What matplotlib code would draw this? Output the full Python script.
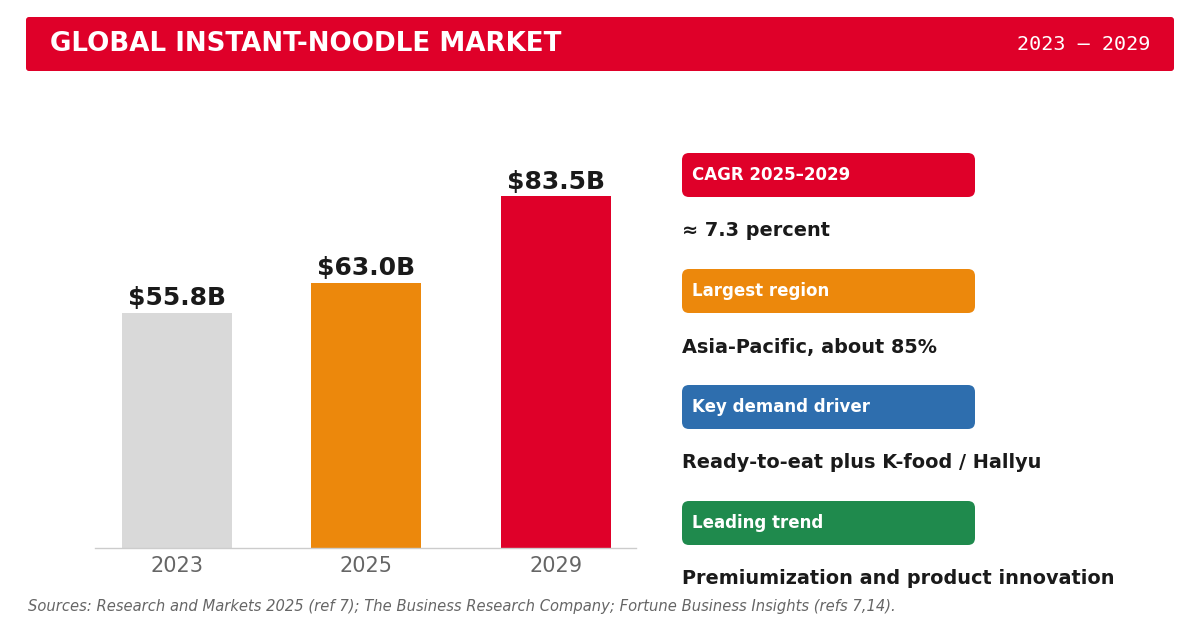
import matplotlib
matplotlib.use('Agg')
import matplotlib.pyplot as plt
from matplotlib.patches import FancyBboxPatch

plt.rcParams['font.family'] = ['DejaVu Sans']

# data
years = ['2023', '2025', '2029']
market_size = [55.8, 63.0, 83.5]  # USD billion
card_titles = ['CAGR 2025\u20132029', 'Largest region', 'Key demand driver', 'Leading trend']
card_values = ['\u2248 7.3 percent', 'Asia-Pacific, about 85%',
               'Ready-to-eat plus K-food / Hallyu',
               'Premiumization and product innovation']
title = 'GLOBAL INSTANT-NOODLE MARKET'
period = '2023 \u2013 2029'
source = ('Sources: Research and Markets 2025 (ref 7); The Business Research Company; '
          'Fortune Business Insights (refs 7,14).')

# styles
RED = '#DF0029'
bar_colors = ['#D9D9D9', '#EC880C', RED]
card_colors = [RED, '#EC880C', '#2E6EAE', '#1F8A4D']
DARK = '#1A1A1A'

W, H = 1200, 629
fig = plt.figure(figsize=(W / 100, H / 100), dpi=100)
fig.patch.set_facecolor('white')

# overlay in pixel coords for header, cards and footer
ov = fig.add_axes([0, 0, 1, 1])
ov.set_xlim(0, W)
ov.set_ylim(H, 0)
ov.axis('off')

ov.add_patch(FancyBboxPatch((26, 17), 1148, 54, boxstyle='round,pad=0,rounding_size=3',
                            facecolor=RED, edgecolor='none'))
ov.text(50, 44, title, color='white', fontsize=18.85, fontweight='bold',
        va='center', ha='left')
ov.text(1150, 44, period, color='white', fontsize=14.5, va='center', ha='right',
        family='DejaVu Sans Mono')

# key facts cards
for i, (t, v, c) in enumerate(zip(card_titles, card_values, card_colors)):
    y0 = 153 + i * 116
    ov.add_patch(FancyBboxPatch((682, y0), 293, 44, boxstyle='round,pad=0,rounding_size=7',
                                facecolor=c, edgecolor='none'))
    ov.text(692, y0 + 22, t, color='white', fontsize=12, fontweight='bold',
            va='center', ha='left')
    ov.text(682, y0 + 78, v, color=DARK, fontsize=13.85, fontweight='bold',
            va='center', ha='left')

ov.text(28, 607, source, color='#666666', fontsize=10.65, style='italic',
        va='center', ha='left')

# bar chart
ax = fig.add_axes([95 / W, 1 - 548 / H, 541 / W, 421 / H])
x = range(len(years))
bars = ax.bar(x, market_size, width=0.58, color=bar_colors, zorder=2)
for b, v in zip(bars, market_size):
    ax.annotate(f'${v:.1f}B', (b.get_x() + b.get_width() / 2, v),
                xytext=(0, 2), textcoords='offset points', ha='center', va='bottom',
                fontsize=18, fontweight='bold', color=DARK)
ax.set_xlim(-0.43, 2.42)
ax.set_ylim(0, 100)
ax.set_xticks(list(x))
ax.set_xticklabels(years, fontsize=15, color='#666666')
ax.tick_params(axis='x', length=0, pad=6)
ax.set_yticks([])
for s in ['top', 'right', 'left']:
    ax.spines[s].set_visible(False)
ax.spines['bottom'].set_color('#CCCCCC')
ax.spines['bottom'].set_linewidth(1)
ax.patch.set_alpha(0)

fig.savefig('out.png', dpi=100)
